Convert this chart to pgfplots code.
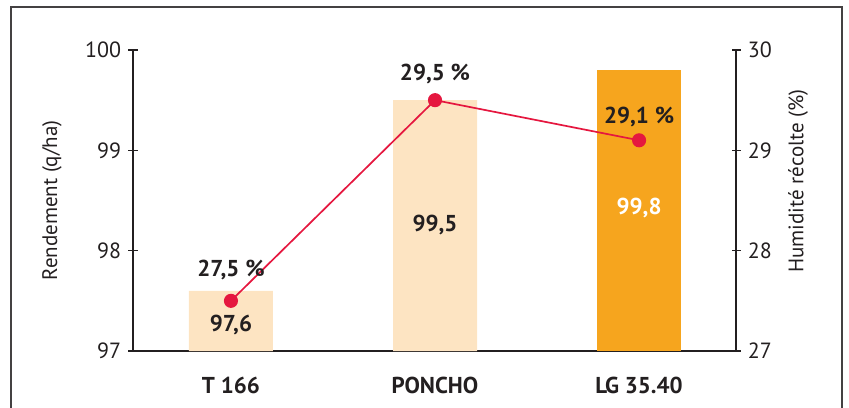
\documentclass[border=0pt]{standalone}
\usepackage{fontspec}
\setmainfont{PT Sans}
\usepackage{pgfplots}
\pgfplotsset{compat=1.18}
\definecolor{peach}{HTML}{FDE4C2}
\definecolor{orng}{HTML}{F6A51E}
\definecolor{rd}{HTML}{E5173F}
\definecolor{txt}{HTML}{231F20}
\begin{document}
\fontsize{10.5}{12}\selectfont
\begin{tikzpicture}[x=1pt,y=1pt]
\useasboundingbox (-66.5,-28) rectangle (358,175.5);
\draw[line width=0.6pt, txt!85] (-61,-40) -- (-61,172) -- (354.5,172) -- (354.5,-40);
\pgfplotsset{
  common/.style={
    at={(0,0)}, anchor=south west,
    scale only axis, width=301.5pt, height=150.5pt,
    xmin=-0.48, xmax=2.475,
    axis line style={txt, line width=0.7pt},
    every tick/.style={txt, line width=0.7pt},
    tick align=center, major tick length=4.5pt,
    /pgf/number format/assume math mode=true,
    tick label style={font=\fontsize{11}{12}\selectfont, text=txt},
    label style={font=\fontsize{10.5}{12}\selectfont, text=txt},
  }
}
\tikzset{dl/.style={font=\fontsize{11.5}{13}\selectfont\bfseries, text=txt}}
\begin{axis}[common,
  axis y line*=left, axis x line*=bottom,
  ymin=97, ymax=100, ytick={97,98,99,100},
  xtick={0,1,2},
  xticklabels={T 166, PONCHO, LG 35.40},
  xticklabel style={font=\fontsize{11.5}{13}\selectfont\bfseries, yshift=-5pt},
  x tick style={draw=none},
  extra x ticks={0.5,1.5}, extra x tick labels={},
  extra x tick style={tick style={draw=txt, line width=0.7pt}, major tick length=6pt},
  ylabel={Rendement (q/ha)},
  ylabel style={at={(axis description cs:-0.1343,0.5)}, anchor=center},
  ybar, bar width=42pt,
]
\addplot[fill=peach, draw=none, bar shift=0pt] coordinates {(0,97.6) (1,99.5)};
\addplot[fill=orng, draw=none, bar shift=0pt] coordinates {(2,99.8)};
\end{axis}
\begin{axis}[common,
  axis y line*=right, axis x line=none,
  ymin=27, ymax=30, ytick={27,28,29,30},
  ylabel={Humidité récolte (\%)},
  ylabel style={at={(axis description cs:1.1028,0.565)}, anchor=center},
  clip=false,
]
\addplot[rd, line width=0.85pt, mark=*, mark size=3.1pt, mark options={fill=rd, draw=rd, solid}] coordinates {(0,27.5) (1,29.5) (2,29.1)};
\node[dl] at (axis cs:0,27.81) {27,5 \%};
\node[dl] at (axis cs:1,29.76) {29,5 \%};
\node[dl] at (axis cs:2,29.33) {29,1 \%};
\node[dl] at (axis cs:0,27.26) {97,6};
\node[dl] at (axis cs:1,28.26) {99,5};
\node[dl, text=white] at (axis cs:2,28.43) {99,8};
\end{axis}
\end{tikzpicture}
\end{document}
